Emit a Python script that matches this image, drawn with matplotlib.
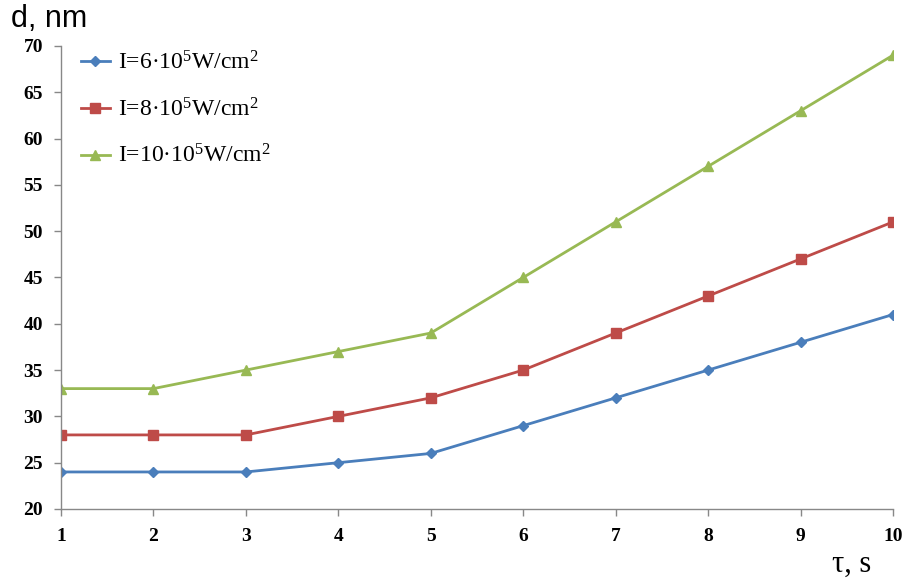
import matplotlib
matplotlib.use("Agg")
import matplotlib.pyplot as plt

# Data
tau = [1, 2, 3, 4, 5, 6, 7, 8, 9, 10]
d_i6 = [24, 24, 24, 25, 26, 29, 32, 35, 38, 41]
d_i8 = [28, 28, 28, 30, 32, 35, 39, 43, 47, 51]
d_i10 = [33, 33, 35, 37, 39, 45, 51, 57, 63, 69]
labels = ["I=6·10$^5$W/cm$^2$", "I=8·10$^5$W/cm$^2$", "I=10·10$^5$W/cm$^2$"]
y_ticks = [20, 25, 30, 35, 40, 45, 50, 55, 60, 65, 70]

plt.rcParams["mathtext.fontset"] = "custom"
plt.rcParams["mathtext.rm"] = "Liberation Serif"
plt.rcParams["mathtext.default"] = "regular"

fig = plt.figure(figsize=(9.14, 5.79), dpi=100)
ax = fig.add_axes([0.0667, 0.1209, 0.9103, 0.7997])

ax.plot(tau, d_i6, color="#4A7EBB", lw=2.0, marker="D", ms=5.5, label=labels[0])
ax.plot(tau, d_i8, color="#BE4B48", lw=2.0, marker="s", ms=7, label=labels[1])
ax.plot(tau, d_i10, color="#98B954", lw=2.0, marker="^", ms=6.5, label=labels[2])

ax.set_xlim(1, 10)
ax.set_ylim(20, 70)
ax.set_xticks(tau)
ax.set_yticks(y_ticks)

for s in ("top", "right"):
    ax.spines[s].set_visible(False)
for s in ("left", "bottom"):
    ax.spines[s].set_color("#888888")
    ax.spines[s].set_linewidth(1.0)
ax.tick_params(axis="both", direction="out", length=5, color="#888888", width=1.0)
ax.tick_params(axis="y", pad=8)
ax.tick_params(axis="x", pad=9)
for lab in ax.get_xticklabels() + ax.get_yticklabels():
    lab.set_fontfamily("Liberation Serif")
    lab.set_fontweight("bold")
    lab.set_fontsize(14)

leg = ax.legend(loc="upper left", bbox_to_anchor=(-0.002, 1.035), frameon=False,
                prop={"family": "Liberation Serif", "size": 17},
                handlelength=1.25, handletextpad=0.35, labelspacing=1.0)

fig.text(0.012, 0.968, "d, nm", fontfamily="Liberation Sans", fontsize=22,
         va="center", ha="left")
fig.text(0.953, 0.025, "τ, s", fontfamily="Liberation Serif", fontsize=22,
         va="center", ha="right")

fig.savefig("out.png", dpi=100)
